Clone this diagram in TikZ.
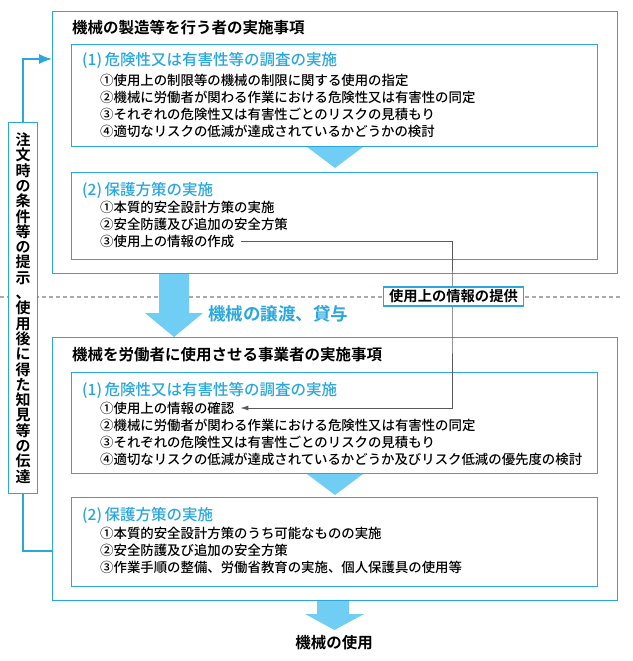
\documentclass[tikz,border=0pt]{standalone}
\usepackage{fontspec}
\setmainfont{Noto Sans CJK JP}[BoldFont={Noto Sans CJK JP Bold}]
\newfontfamily\medfont{Noto Sans CJK JP Medium}
\usetikzlibrary{arrows.meta,positioning}
\definecolor{boxblue}{RGB}{41,167,222}
\definecolor{arrowblue}{RGB}{112,206,245}
\definecolor{linegray}{RGB}{90,90,90}
\definecolor{dashgray}{RGB}{170,170,170}

\begin{document}
\begin{tikzpicture}[x=1pt, y=-1pt,
frame/.style={draw=boxblue, line width=1.1pt, anchor=north west, inner sep=0pt},
title/.style={anchor=west, inner sep=0pt, font=\fontsize{15.5}{18}\selectfont\bfseries},
head/.style={anchor=west, inner sep=0pt, text=boxblue, font=\fontsize{15.5}{18}\selectfont\medfont},
item/.style={anchor=west, inner sep=0pt, font=\fontsize{13.4}{16}\selectfont\medfont},
blockarrow/.style={fill=arrowblue, draw=none},
feed/.style={draw=boxblue, line width=1.6pt},
info/.style={draw=linegray, line width=0.9pt}]

\useasboundingbox (0,0) rectangle (632,661);

\draw[dashgray, line width=1.3pt, dash pattern=on 4pt off 3pt] (0,297) -- (620,297);

% maker side
\node[frame, minimum width=565pt, minimum height=262pt] (maker) at (52,11) {};
\node[frame, minimum width=526pt, minimum height=102pt] (risk) at (71,44) {};
\node[frame, minimum width=526pt, minimum height=87pt] (protect) at (71,172) {};

\node[title] (t1) at (72,28) {機械の製造等を行う者の実施事項};
\node[head] (h1) at (82,60) {(1)\,危険性又は有害性等の調査の実施};
\node[item] (a1) at (100,80) {①使用上の制限等の機械の制限に関する使用の指定};
\node[item] (a2) at (100,97) {②機械に労働者が関わる作業における危険性又は有害性の同定};
\node[item] (a3) at (100,114) {③それぞれの危険性又は有害性ごとのリスクの見積もり};
\node[item] (a4) at (100,131) {④適切なリスクの低減が達成されているかどうかの検討};
\fill[blockarrow] (307,147) -- (363,147) -- (335,168) -- cycle;
\node[head] (h2) at (82,190) {(2)\,保護方策の実施};
\node[item] (b1) at (100,207) {①本質的安全設計方策の実施};
\node[item] (b2) at (100,224) {②安全防護及び追加の安全方策};
\node[item] (made) at (100,241) {③使用上の情報の作成};

% transfer
\fill[blockarrow] (159,274) -- (189,274) -- (189,313) -- (203,313) -- (174,337) -- (145,313) -- (159,313) -- cycle;
\node[anchor=west, inner sep=0pt, text=boxblue, font=\fontsize{17.5}{20}\selectfont\bfseries] (hand) at (208,314) {機械の譲渡、貸与};

% user side
\node[frame, minimum width=565pt, minimum height=263pt] (user) at (52,337) {};
\node[frame, minimum width=526pt, minimum height=101pt] (urisk) at (71,372) {};
\node[frame, minimum width=526pt, minimum height=89pt] (uprotect) at (71,497) {};

\node[title] (t2) at (72,355) {機械を労働者に使用させる事業者の実施事項};
\node[head] (h3) at (82,390) {(1)\,危険性又は有害性等の調査の実施};
\node[item] (check) at (100,408) {①使用上の情報の確認};
\node[item] (c2) at (100,425) {②機械に労働者が関わる作業における危険性又は有害性の同定};
\node[item] (c3) at (100,442) {③それぞれの危険性又は有害性ごとのリスクの見積もり};
\node[item] (c4) at (100,459) {④適切なリスクの低減が達成されているかどうか及びリスク低減の優先度の検討};
\fill[blockarrow] (307,474) -- (363,474) -- (335,495) -- cycle;
\node[head] (h4) at (82,515) {(2)\,保護方策の実施};
\node[item] (d1) at (100,533) {①本質的安全設計方策のうち可能なものの実施};
\node[item] (d2) at (100,550) {②安全防護及び追加の安全方策};
\node[item] (d3) at (100,567) {③作業手順の整備、労働省教育の実施、個人保護具の使用等};

\fill[blockarrow] (317,601) -- (349,601) -- (349,614) -- (364,614) -- (334.5,630) -- (305,614) -- (317,614) -- cycle;
\node[title, anchor=center] (use) at (334,643) {機械の使用};

% information flow
\draw[info, -{Latex[length=8pt,width=5pt]}] ([xshift=7pt]made.east) -| (452,300) |- ([xshift=6pt]check.east);
\node[frame, anchor=center, fill=white, inner xsep=6pt, minimum height=19pt,
  font=\fontsize{14.3}{16}\selectfont\bfseries] (provide) at (453.5,296.5) {使用上の情報の提供};

% feedback column
\node[frame, fill=white, minimum width=29pt, minimum height=371pt, align=center,
  font=\fontsize{15}{15.3}\selectfont\bfseries] (notify) at (8,122)
  {注\\文\\時\\の\\条\\件\\等\\の\\提\\示\\、\\使\\用\\後\\に\\得\\た\\知\\見\\等\\の\\伝\\達};
\draw[feed, -{Latex[length=13pt,width=10pt]}] (notify.north) |- ([yshift=-48pt]maker.north west);
\draw[feed] (notify.south) |- ([yshift=-214pt]user.north west);

\end{tikzpicture}
\end{document}
